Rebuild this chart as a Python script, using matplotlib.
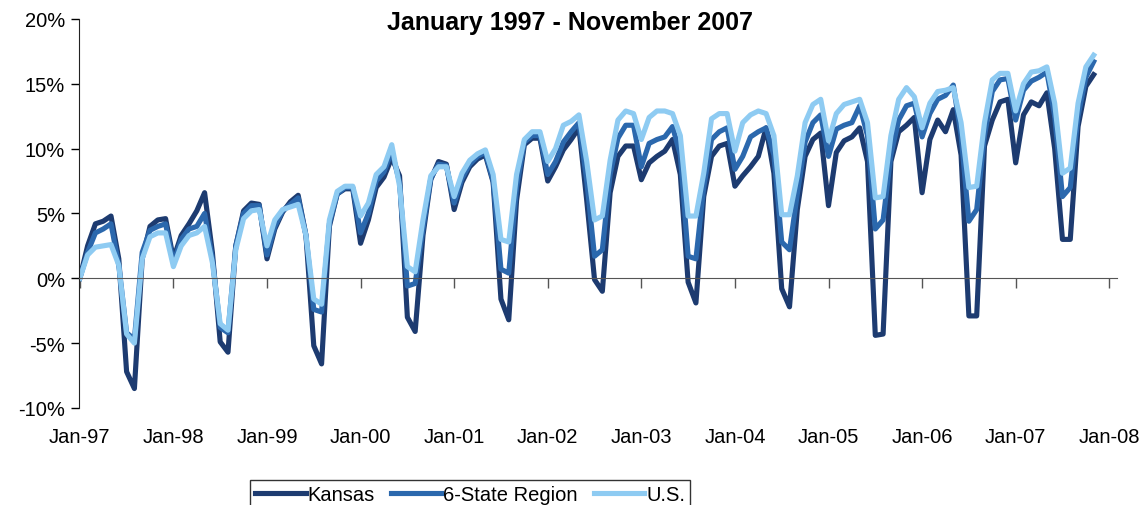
"""Cumulative employment growth: Kansas vs 6-state region vs U.S., Jan 1997 - Nov 2007."""

import matplotlib

matplotlib.use("Agg")
import matplotlib.pyplot as plt
import numpy as np

plt.rcParams["font.family"] = ["Liberation Sans", "DejaVu Sans"]

# monthly cumulative growth (%) since Jan 1997
kansas = [
    0.0, 2.5, 4.2, 4.4, 4.8, 1.5, -7.2, -8.5, 1.5, 4.0, 4.5, 4.6,
    1.5, 3.3, 4.2, 5.2, 6.6, 2.0, -4.9, -5.7, 2.5, 5.2, 5.8, 5.7,
    1.5, 3.8, 5.1, 5.9, 6.4, 3.3, -5.2, -6.6, 4.0, 6.5, 6.9, 6.9,
    2.7, 4.5, 7.0, 7.8, 9.3, 7.9, -3.0, -4.1, 3.3, 7.6, 9.0, 8.8,
    5.3, 7.4, 8.6, 9.2, 9.5, 7.4, -1.6, -3.2, 6.0, 10.3, 10.8, 10.8,
    7.5, 8.6, 9.9, 10.7, 11.6, 6.0, -0.1, -1.0, 6.6, 9.4, 10.2, 10.2,
    7.6, 8.9, 9.4, 9.8, 10.7, 8.0, -0.3, -1.9, 6.3, 9.4, 10.2, 10.4,
    7.1, 7.9, 8.6, 9.4, 11.6, 8.1, -0.8, -2.2, 5.3, 9.4, 10.7, 11.2,
    5.6, 9.7, 10.6, 10.9, 11.6, 9.0, -4.4, -4.3, 9.0, 11.3, 11.8, 12.4,
    6.6, 10.7, 12.2, 11.3, 13.0, 9.5, -2.9, -2.9, 10.2, 12.2, 13.6, 13.8,
    8.9, 12.6, 13.6, 13.3, 14.3, 10.0, 3.0, 3.0, 11.7, 14.8, 15.7,
]
region = [
    0.0, 2.0, 3.5, 3.8, 4.2, 1.0, -4.2, -4.7, 2.0, 3.7, 4.0, 4.2,
    1.2, 3.0, 3.8, 4.0, 5.0, 1.5, -3.8, -4.2, 2.5, 5.0, 5.6, 5.6,
    1.8, 4.0, 5.2, 5.7, 6.2, 3.3, -2.4, -2.6, 4.2, 6.5, 7.0, 7.0,
    3.5, 5.0, 7.5, 8.2, 9.8, 7.4, -0.6, -0.4, 3.8, 7.7, 8.8, 8.7,
    5.8, 7.7, 8.8, 9.4, 9.7, 7.5, 0.7, 0.4, 7.0, 10.5, 11.0, 11.0,
    8.0, 9.0, 10.5, 11.3, 12.0, 7.5, 1.7, 2.2, 8.0, 10.8, 11.8, 11.8,
    8.6, 10.4, 10.7, 10.9, 11.7, 9.5, 1.7, 1.5, 7.0, 10.7, 11.3, 11.6,
    8.4, 9.4, 10.9, 11.3, 11.6, 9.5, 2.8, 2.2, 6.5, 10.5, 12.0, 12.6,
    9.4, 11.5, 11.8, 12.0, 13.3, 11.0, 3.8, 4.5, 9.5, 12.2, 13.3, 13.5,
    10.9, 12.7, 13.8, 14.1, 14.9, 11.0, 4.4, 5.3, 11.0, 14.4, 15.3, 15.4,
    12.2, 14.5, 15.2, 15.5, 15.9, 12.5, 6.3, 7.0, 12.5, 15.5, 16.7,
]
us = [
    0.0, 1.8, 2.4, 2.5, 2.6, 1.0, -4.3, -5.0, 1.5, 3.2, 3.5, 3.5,
    0.9, 2.5, 3.3, 3.5, 4.0, 1.2, -3.5, -4.0, 2.2, 4.6, 5.2, 5.3,
    2.5, 4.5, 5.3, 5.5, 5.7, 3.3, -1.6, -2.0, 4.5, 6.7, 7.1, 7.1,
    4.8, 5.8, 8.0, 8.6, 10.3, 7.1, 0.9, 0.5, 4.5, 7.9, 8.6, 8.6,
    6.3, 8.1, 9.1, 9.6, 9.9, 8.0, 3.0, 2.8, 8.0, 10.7, 11.3, 11.3,
    9.0, 10.0, 11.8, 12.1, 12.6, 9.0, 4.5, 4.8, 9.1, 12.2, 12.9, 12.7,
    10.7, 12.4, 12.9, 12.9, 12.7, 11.0, 4.8, 4.8, 8.1, 12.3, 12.7, 12.7,
    9.8, 12.0, 12.6, 12.9, 12.7, 11.0, 4.9, 4.9, 7.9, 12.0, 13.4, 13.8,
    10.6, 12.7, 13.4, 13.6, 13.8, 12.0, 6.2, 6.3, 11.0, 13.8, 14.7, 14.0,
    11.6, 13.5, 14.4, 14.5, 14.7, 12.0, 7.0, 7.1, 12.0, 15.3, 15.8, 15.8,
    12.9, 15.0, 15.9, 16.0, 16.3, 13.5, 8.1, 8.5, 13.5, 16.3, 17.2,
]
tick_labels = ["Jan-97", "Jan-98", "Jan-99", "Jan-00", "Jan-01", "Jan-02",
               "Jan-03", "Jan-04", "Jan-05", "Jan-06", "Jan-07", "Jan-08"]
series_names = ["Kansas", "6-State Region", "U.S."]
colors = ["#1d3b70", "#2b68ad", "#8ecbf2"]

FS = 14.5

fig = plt.figure(figsize=(11.47, 5.06), dpi=100)
ax = fig.add_axes([0.0689, 0.1917, 0.905, 0.769])

months = np.arange(len(kansas))
for vals, name, col in zip([kansas, region, us], series_names, colors):
    ax.plot(months, vals, color=col, lw=3.7, label=name)

ax.set_ylim(-10, 20)
ax.set_xlim(-0.1, 133)
ax.set_yticks(np.arange(-10, 21, 5))
ax.set_yticklabels([f"{v}%" for v in range(-10, 21, 5)], fontsize=FS)
ax.tick_params(axis="y", direction="out", length=6, width=1, pad=4)

# category axis drawn at 0% with ticks, labels sit below the plot
jan_pos = np.arange(0, 133, 12)
ax.spines["bottom"].set_position(("data", 0))
ax.spines["bottom"].set_color("#555555")
ax.set_xticks(jan_pos)
ax.tick_params(axis="x", direction="out", length=7, width=1, colors="#555555",
               labelbottom=False)
for side in ("top", "right"):
    ax.spines[side].set_visible(False)
ax.spines["left"].set_color("#222222")

sec = ax.secondary_xaxis("bottom")
sec.set_xticks(jan_pos, tick_labels)
sec.tick_params(length=0, pad=14, labelsize=FS)
sec.spines["bottom"].set_visible(False)

fig.text(0.497, 0.955, "January 1997 - November 2007", ha="center", va="center",
         fontsize=18, fontweight="bold")

leg = ax.legend(loc="upper center", bbox_to_anchor=(0.41, 0.049),
                bbox_transform=fig.transFigure, ncol=3, fontsize=FS,
                frameon=True, fancybox=False, edgecolor="black",
                handlelength=2.5, handletextpad=0.1, columnspacing=0.8,
                borderpad=0.25, borderaxespad=0)
leg.get_frame().set_linewidth(1.0)

fig.savefig("out.png", dpi=100)
